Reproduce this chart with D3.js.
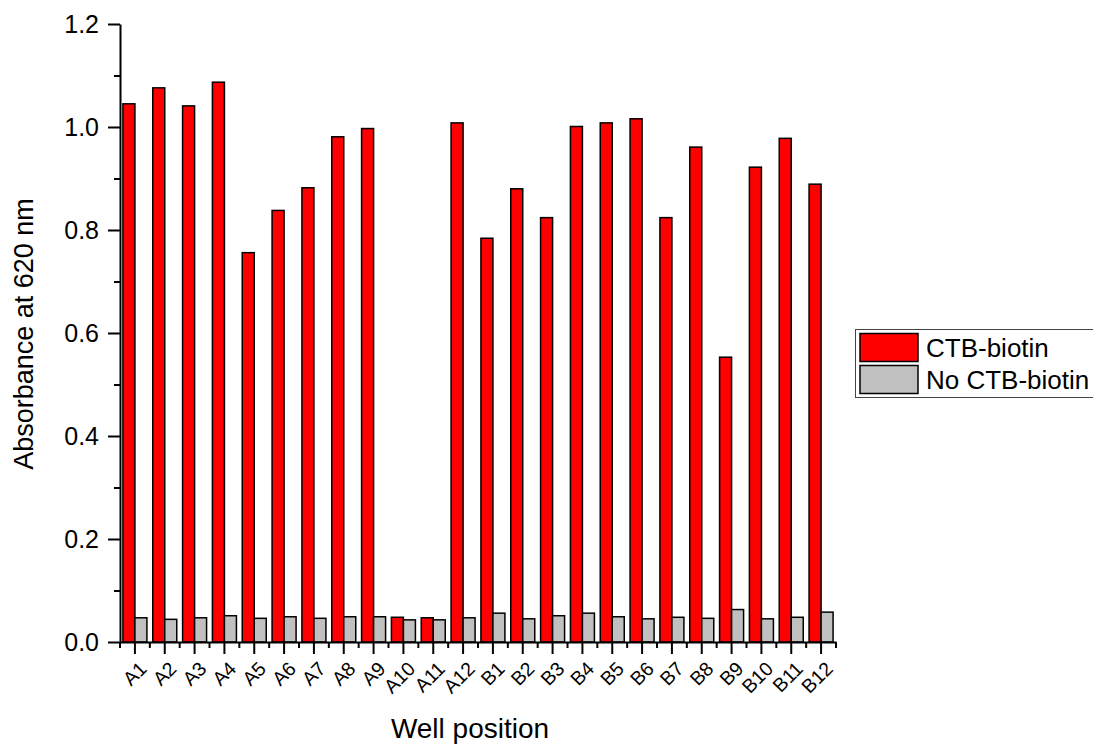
<!DOCTYPE html>
<html>
<head>
<meta charset="utf-8">
<script src="https://cdn.jsdelivr.net/npm/d3@7"></script>
<style>
  html, body { margin: 0; padding: 0; background: #fff; }
  svg { display: block; font-family: "Liberation Sans", Arial, sans-serif; }
</style>
</head>
<body>
<svg id="chart" width="1093" height="746"></svg>
<script>
const wells = ["A1","A2","A3","A4","A5","A6","A7","A8","A9","A10","A11","A12",
               "B1","B2","B3","B4","B5","B6","B7","B8","B9","B10","B11","B12"];
const ctbBiotin = [1.045,1.076,1.041,1.087,0.756,0.838,0.882,0.981,0.997,0.048,0.047,1.008,
                   0.784,0.880,0.824,1.001,1.008,1.016,0.824,0.961,0.553,0.922,0.978,0.889];
const noCtbBiotin = [0.047,0.044,0.047,0.051,0.046,0.049,0.046,0.049,0.049,0.043,0.043,0.047,
                     0.056,0.045,0.051,0.056,0.049,0.045,0.048,0.046,0.063,0.045,0.048,0.058];
const seriesNames = ["CTB-biotin","No CTB-biotin"];
const seriesColors = ["#ff0000","#c0c0c0"];
const yMajorTicks = [0,0.2,0.4,0.6,0.8,1.0,1.2];
const yMinorTicks = [0.1,0.3,0.5,0.7,0.9,1.1];
const xTitle = "Well position";
const yTitle = "Absorbance at 620 nm";

const svg = d3.select("#chart");
const mLeft = 120, mRight = 836, mTop = 24, mBottom = 642;

const x = d3.scaleBand().domain(wells).range([mLeft, mRight]).paddingInner(0).paddingOuter(0);
const bw = x.bandwidth();
const barW = 12;
const x1 = d3.scaleBand().domain(seriesNames).range([bw/2 - barW, bw/2 + barW]).padding(0);
const y = d3.scaleLinear().domain([0, 1.2]).range([mBottom, mTop]);

const data = wells.map((w, i) => ({ well: w, values: [ctbBiotin[i], noCtbBiotin[i]] }));

// bars
const g = svg.append("g");
const groups = g.selectAll("g.well").data(data).join("g")
  .attr("class", "well")
  .attr("transform", d => `translate(${x(d.well)},0)`);
groups.selectAll("rect").data(d => d.values.map((v, j) => ({ name: seriesNames[j], v, j })))
  .join("rect")
  .attr("x", d => x1(d.name))
  .attr("width", x1.bandwidth())
  .attr("y", d => y(d.v))
  .attr("height", d => y(0) - y(d.v))
  .attr("fill", d => seriesColors[d.j])
  .attr("stroke", "#000")
  .attr("stroke-width", 1.5);

// y axis
const yAxis = svg.append("g").attr("transform", `translate(${mLeft},0)`)
  .call(d3.axisLeft(y).tickValues(yMajorTicks).tickSize(12).tickSizeOuter(0)
        .tickPadding(9).tickFormat(d3.format(".1f")));
yAxis.selectAll("text").style("font-size", "25px").attr("fill", "#000");
const yMinor = svg.append("g").attr("transform", `translate(${mLeft},0)`)
  .call(d3.axisLeft(y).tickValues(yMinorTicks).tickSize(6).tickFormat(""));
yMinor.select(".domain").remove();

// x axis
const xAxis = svg.append("g").attr("transform", `translate(0,${mBottom})`)
  .call(d3.axisBottom(x).tickSize(12).tickSizeOuter(0).tickFormat(""));
// minor ticks at band boundaries
const bounds = wells.map(w => x(w)).concat([mRight]);
svg.append("g").selectAll("line").data(bounds).join("line")
  .attr("x1", d => d).attr("x2", d => d)
  .attr("y1", mBottom).attr("y2", mBottom + 6)
  .attr("stroke", "#000").attr("stroke-width", 2);
// rotated labels
svg.append("g").selectAll("text").data(wells).join("text")
  .attr("transform", d => `translate(${x(d) + bw/2 + 13},${mBottom + 28}) rotate(-45)`)
  .attr("text-anchor", "end")
  .style("font-size", "19.5px")
  .attr("fill", "#000")
  .text(d => d);

svg.selectAll(".domain").attr("stroke", "#000").attr("stroke-width", 2);
svg.selectAll(".tick line").attr("stroke", "#000").attr("stroke-width", 2);

// axis titles
svg.append("text")
  .attr("x", (mLeft + mRight) / 2 - 8).attr("y", 738)
  .attr("text-anchor", "middle").style("font-size", "28px").attr("fill", "#000")
  .text(xTitle);
svg.append("text")
  .attr("transform", `translate(33,334) rotate(-90)`)
  .attr("text-anchor", "middle").style("font-size", "27px").attr("fill", "#000")
  .text(yTitle);

// legend
const lg = svg.append("g");
lg.append("rect").attr("x", 855.5).attr("y", 329.5).attr("width", 240).attr("height", 68)
  .attr("fill", "#fff").attr("stroke", "#444").attr("stroke-width", 1);
seriesNames.forEach((name, i) => {
  const yy = 333.5 + i * 32;
  lg.append("rect").attr("x", 860).attr("y", yy).attr("width", 58).attr("height", 28)
    .attr("fill", seriesColors[i]).attr("stroke", "#000").attr("stroke-width", 1.5);
  lg.append("text").attr("x", 926).attr("y", yy + 23.5)
    .style("font-size", "26px").attr("fill", "#000").text(name);
});
</script>
</body>
</html>
